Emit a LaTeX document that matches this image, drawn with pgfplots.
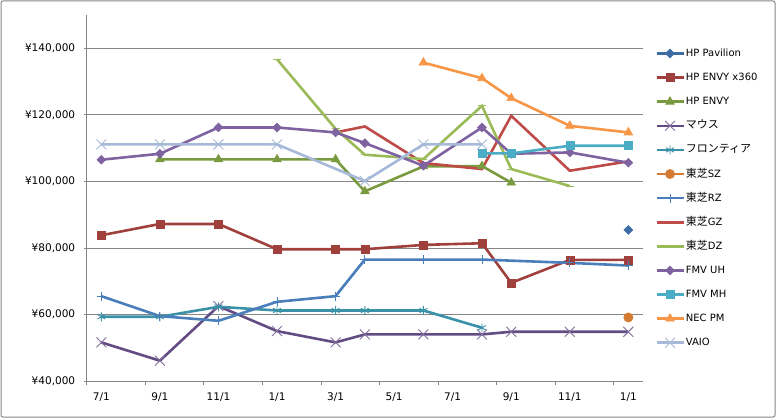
\documentclass[border=0pt]{standalone}
\usepackage{fontspec}
\setmainfont{DejaVu Sans}
\newfontfamily\cjk{Noto Sans CJK JP}[Scale=1.1]
\usepackage{pgfplots}
\pgfplotsset{compat=1.18}
\definecolor{cPav}{HTML}{3D6CA6}
\definecolor{cX360}{HTML}{A0403D}
\definecolor{cEnvy}{HTML}{7A9A3F}
\definecolor{cMouse}{HTML}{634C84}
\definecolor{cFront}{HTML}{3A91A8}
\definecolor{cSZ}{HTML}{D57A30}
\definecolor{cRZ}{HTML}{4A7EBB}
\definecolor{cGZ}{HTML}{BE4B48}
\definecolor{cDZ}{HTML}{9BBB59}
\definecolor{cUH}{HTML}{7F63A1}
\definecolor{cMH}{HTML}{4BACC6}
\definecolor{cNEC}{HTML}{F79646}
\definecolor{cVAIO}{HTML}{A7B9D8}
\definecolor{axgray}{HTML}{868686}
\begin{document}
\begin{tikzpicture}
\useasboundingbox (0pt,0pt) rectangle (776pt,418pt);
\draw[color=axgray, line width=1pt, rounded corners=2pt] (1pt,1pt) rectangle (775pt,417pt);
\begin{axis}[
  at={(86.7pt,37pt)}, anchor=south west,
  scale only axis, width=556.3pt, height=366pt,
  xmin=-0.5, xmax=18.5, ymin=40000, ymax=150000,
  axis x line*=bottom, axis y line*=left,
  axis line style={-, color=axgray, line width=0.8pt},
  xtick={0,2,...,18},
  xticklabels={7/1,9/1,11/1,1/1,3/1,5/1,7/1,9/1,11/1,1/1},
  major x tick style={draw=none},
  minor xtick={-0.5,1.5,...,17.5},
  minor tick length=4pt, major tick length=3pt,
  tick align=outside,
  tick style={color=axgray, line width=0.8pt},
  ytick={40000,60000,...,140000},
  ymajorgrids, grid style={color=axgray, line width=0.8pt},
  scaled y ticks=false,
  yticklabel={¥\pgfmathprintnumber{\tick}},
  /pgf/number format/.cd, fixed, 1000 sep={,}, assume math mode=true,
  /pgfplots/.cd,
  ticklabel style={font=\fontsize{10.5}{12}\selectfont, text=black},
  yticklabel style={xshift=-5pt},
  xticklabel style={yshift=-5pt},
  legend cell align=left,
  legend style={at={(1.0216,0.9117)}, anchor=north west, draw=none, fill=none,
    inner sep=0pt, row sep=12.1pt, column sep=0pt,
    font=\fontsize{10}{12}\selectfont,
    nodes={inner sep=1pt, text height=8pt, text depth=2pt}},
  legend image code/.code={\draw[mark repeat=2,mark phase=2,#1] plot coordinates {(0pt,0pt)(13.5pt,0pt)(27pt,0pt)};},
  every axis plot/.append style={line width=2.6pt},
]
% HP Pavilion
\addplot[color=cPav, mark=square*, mark size=3.1pt, mark options={rotate=45, line width=0.6pt}] coordinates {(18,85400)};
\addlegendentry{HP Pavilion}
% HP ENVY x360
\addplot[color=cX360, mark=square*, mark size=4pt, mark options={line width=0.6pt}] coordinates {
(0,83800)(2,87200)(4,87200)(6,79600)(8,79600)(9,79600)(11,80900)(13,81400)(14,69500)(16,76400)(18,76400)};
\addlegendentry{HP ENVY x360}
% HP ENVY
\addplot[color=cEnvy, mark=triangle*, mark size=5pt, mark options={line width=0.6pt}] coordinates {
(2,106600)(4,106600)(6,106600)(8,106600)(9,97000)(11,104500)(13,104600)(14,99600)};
\addlegendentry{HP ENVY}
% マウス
\addplot[color=cMouse, mark=x, mark size=7pt, mark options={line width=0.9pt, color=cMouse!80!white}] coordinates {
(0,51600)(2,46100)(4,62500)(6,55000)(8,51600)(9,54000)(11,54000)(13,54000)(14,54800)(16,54800)(18,54800)};
\addlegendentry{{\cjk マウス}}
% フロンティア
\addplot[color=cFront, mark=asterisk, mark size=4.5pt, mark options={line width=0.9pt}] coordinates {
(0,59300)(2,59300)(4,62300)(6,61200)(8,61200)(9,61200)(11,61200)(13,56000)};
\addlegendentry{{\cjk フロンティア}}
% 東芝SZ
\addplot[color=cSZ, mark=*, mark size=4.6pt, mark options={line width=0.6pt}] coordinates {(18,59100)};
\addlegendentry{{\cjk 東芝}SZ}
% 東芝RZ
\addplot[color=cRZ, mark=+, mark size=4.5pt, mark options={line width=0.9pt}] coordinates {
(0,65500)(2,59500)(4,58100)(6,63800)(8,65500)(9,76500)(11,76500)(13,76500)(16,75500)(18,74700)};
\addlegendentry{{\cjk 東芝}RZ}
% 東芝GZ
\addplot[color=cGZ, no marks] coordinates {
(8,114700)(9,116500)(11,105500)(13,103700)(14,119700)(16,103200)(18,106000)};
\addlegendentry{{\cjk 東芝}GZ}
% 東芝DZ
\addplot[color=cDZ, mark=-, mark size=4pt, mark options={line width=0.9pt}] coordinates {
(6,136700)(8,115800)(9,108000)(11,106700)(13,122700)(14,103700)(16,98600)};
\addlegendentry{{\cjk 東芝}DZ}
% FMV UH
\addplot[color=cUH, mark=square*, mark size=3.1pt, mark options={rotate=45, line width=0.6pt}] coordinates {
(0,106500)(2,108300)(4,116200)(6,116200)(8,114700)(9,111500)(11,104700)(13,116200)(14,108300)(16,108700)(18,105600)};
\addlegendentry{FMV UH}
% FMV MH
\addplot[color=cMH, mark=square*, mark size=4pt, mark options={line width=0.6pt}] coordinates {
(13,108400)(14,108400)(16,110700)(18,110700)};
\addlegendentry{FMV MH}
% NEC PM
\addplot[color=cNEC, mark=triangle*, mark size=5pt, mark options={line width=0.6pt}] coordinates {
(11,135700)(13,131000)(14,125000)(16,116700)(18,114700)};
\addlegendentry{NEC PM}
% VAIO
\addplot[color=cVAIO, mark=x, mark size=7pt, mark options={line width=0.9pt}] coordinates {
(0,111100)(2,111100)(4,111100)(6,111100)(9,100100)(11,111100)(13,111100)};
\addlegendentry{VAIO}
\end{axis}
\end{tikzpicture}
\end{document}
